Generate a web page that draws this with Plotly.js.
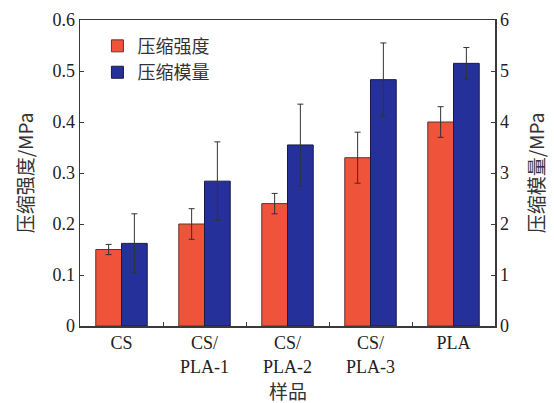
<!DOCTYPE html>
<html>
<head>
<meta charset="utf-8">
<script src="https://cdn.plot.ly/plotly-3.0.1.min.js"></script>
<style>html,body{margin:0;padding:0;background:#fff;}#chart{width:554px;height:403px;}</style>
</head>
<body>
<div id="chart"></div>
<script>
const categories = ['CS', 'CS/<br>PLA-1', 'CS/<br>PLA-2', 'CS/<br>PLA-3', 'PLA'];
const strength = [0.15, 0.20, 0.24, 0.33, 0.40];
const strengthErr = [0.01, 0.03, 0.02, 0.05, 0.03];
const modulus = [1.62, 2.84, 3.55, 4.83, 5.15];
const modulusErr = [0.58, 0.77, 0.80, 0.72, 0.31];
const seriesNames = ['压缩强度', '压缩模量'];
const xTitle = '样品';
const leftTicks = [0, 0.1, 0.2, 0.3, 0.4, 0.5, 0.6];
const leftTickText = ['0', '0.1', '0.2', '0.3', '0.4', '0.5', '0.6'];
const rightTicks = [0, 1, 2, 3, 4, 5, 6];

const serif = 'Liberation Serif, Times New Roman, serif';
const cjk = 'Noto Sans CJK SC, sans-serif';
const axisColor = '#3a3a3a';

const traces = [
  {
    type: 'bar', x: categories, y: strength, name: seriesNames[0],
    width: 0.31, offset: -0.31,
    marker: {color: '#EF5339', line: {color: '#5a3a30', width: 1}},
    error_y: {type: 'data', array: strengthErr, visible: true, color: '#333', thickness: 1, width: 3},
    xaxis: 'x', yaxis: 'y'
  },
  {
    type: 'bar', x: categories, y: modulus, name: seriesNames[1],
    width: 0.31, offset: 0,
    marker: {color: '#26309B', line: {color: '#1a1a40', width: 1}},
    error_y: {type: 'data', array: modulusErr, visible: true, color: '#333', thickness: 1, width: 3},
    xaxis: 'x', yaxis: 'y2'
  }
];

const layout = {
  width: 554, height: 403,
  margin: {l: 80, r: 59, t: 20, b: 77},
  paper_bgcolor: '#fff', plot_bgcolor: '#fff',
  showlegend: true,
  legend: {
    x: 0.042, y: 0.975, xanchor: 'left', yanchor: 'top',
    bgcolor: 'rgba(0,0,0,0)', font: {family: cjk, size: 18, color: '#333'},
    tracegroupgap: 0, itemwidth: 30
  },
  xaxis: {
    type: 'category', range: [-0.5, 4.5],
    showline: true, linecolor: axisColor, linewidth: 1.5, mirror: true,
    ticks: 'inside', tickson: 'boundaries', ticklen: 4, tickcolor: axisColor,
    tickfont: {family: serif, size: 18, color: '#222'},
    showgrid: false, zeroline: false
  },
  yaxis: {
    range: [0, 0.6], tickvals: leftTicks, ticktext: leftTickText,
    showline: true, linecolor: axisColor, linewidth: 1.5,
    ticks: 'inside', ticklen: 4, tickcolor: axisColor,
    tickfont: {family: serif, size: 18, color: '#222'},
    showgrid: false, zeroline: false,
    title: {text: '压缩强度/MPa', font: {family: cjk, size: 19, color: '#333'}, standoff: 14}
  },
  yaxis2: {
    range: [0, 6], tickvals: rightTicks, overlaying: 'y', side: 'right',
    showline: true, linecolor: axisColor, linewidth: 1.5,
    ticks: 'inside', ticklen: 4, tickcolor: axisColor,
    tickfont: {family: serif, size: 18, color: '#222'},
    showgrid: false, zeroline: false,
    title: {text: '压缩模量/MPa', font: {family: cjk, size: 19, color: '#333'}, standoff: 22}
  },
  annotations: [{
    text: xTitle, xref: 'paper', yref: 'paper', x: 0.5, y: -0.212,
    xanchor: 'center', yanchor: 'middle', showarrow: false,
    font: {family: cjk, size: 19, color: '#333'}
  }],
  bargap: 0.37
};

Plotly.newPlot('chart', traces, layout, {displayModeBar: false, staticPlot: true});
</script>
</body>
</html>
